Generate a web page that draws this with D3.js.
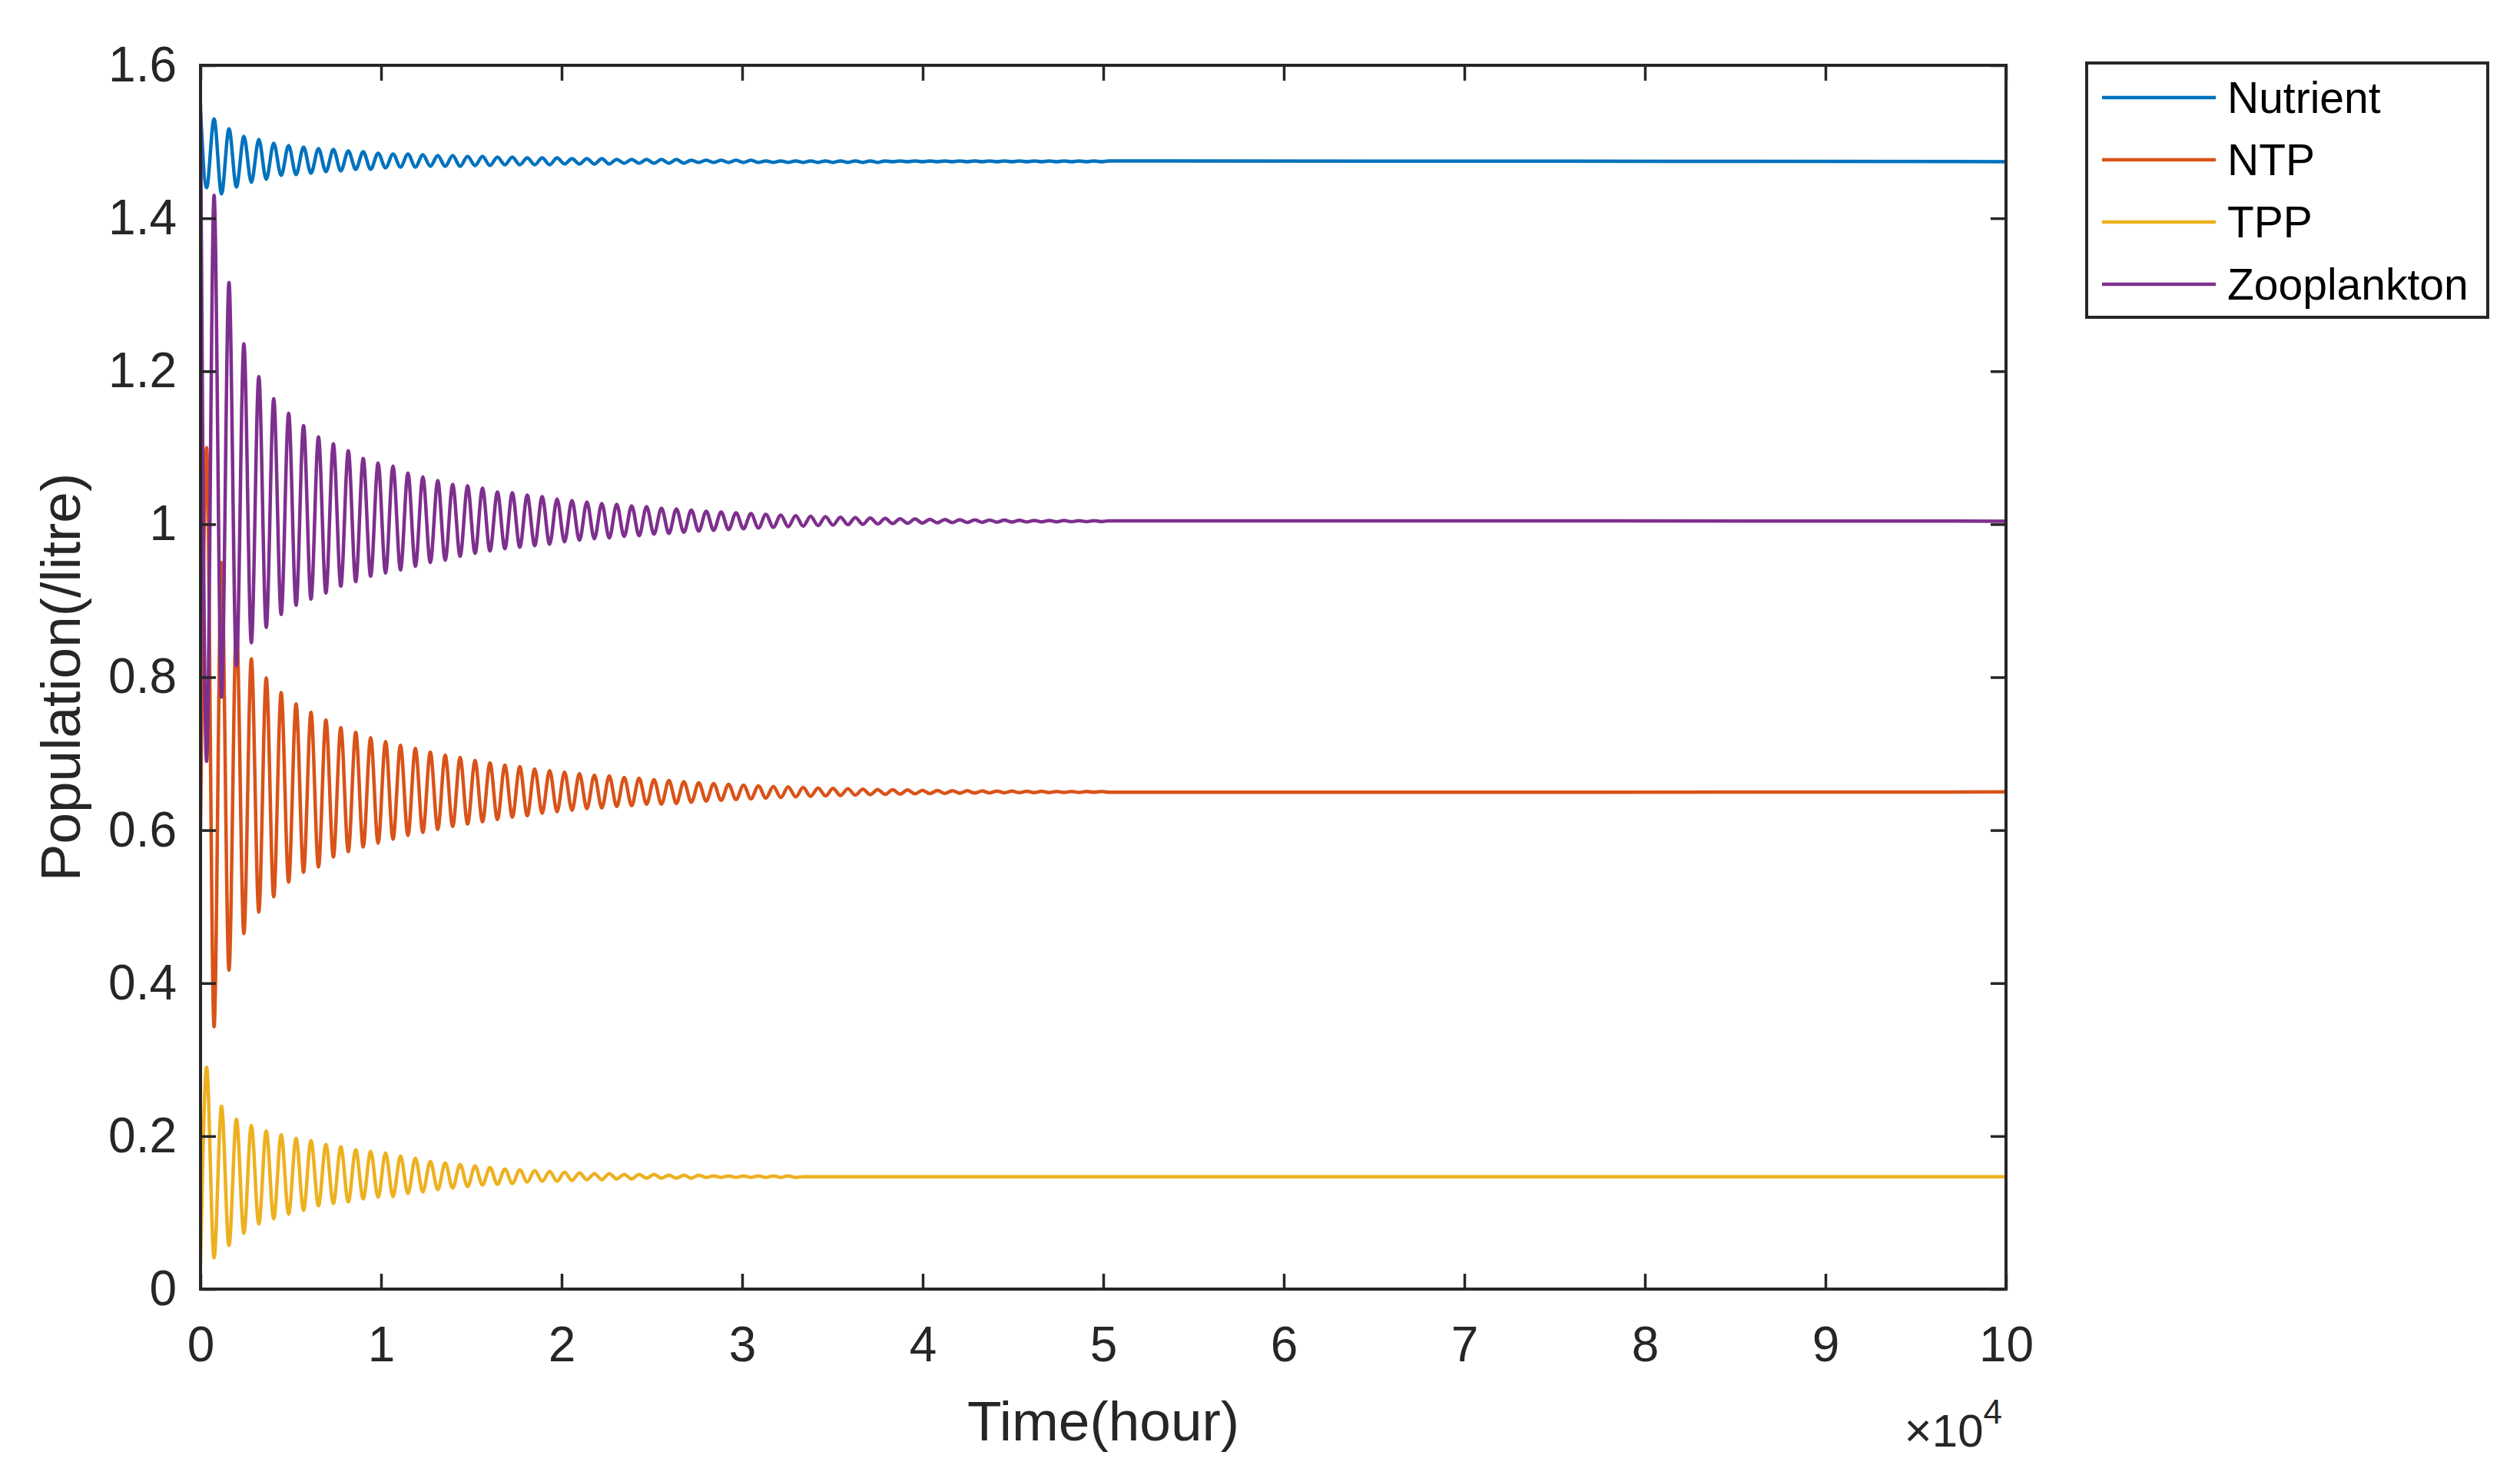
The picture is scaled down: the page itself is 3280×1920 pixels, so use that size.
<!DOCTYPE html>
<html><head><meta charset="utf-8">
<script src="https://cdn.jsdelivr.net/npm/d3@7/dist/d3.min.js"></script>
<style>body{margin:0;background:#fff}svg text{font-family:"Liberation Sans",Arial,Helvetica,sans-serif}</style>
</head><body>
<svg id="chart" width="3280" height="1920"></svg>
<script>
// ---------- data ----------
const seriesNames = ["Nutrient", "NTP", "TPP", "Zooplankton"];
const seriesColors = ["#0072BD", "#D95319", "#EDB120", "#7E2F8E"];

const xTickValues = [0, 10000, 20000, 30000, 40000, 50000, 60000, 70000, 80000, 90000, 100000];
const xTickLabels = ["0", "1", "2", "3", "4", "5", "6", "7", "8", "9", "10"];
const yTickValues = [0, 0.2, 0.4, 0.6, 0.8, 1.0, 1.2, 1.4, 1.6];
const yTickLabels = ["0", "0.2", "0.4", "0.6", "0.8", "1", "1.2", "1.4", "1.6"];

// times (hours) of the oscillation turning points
const timesA = [337, 1163, 1989, 2815, 3641, 4467, 5293, 6119, 6945, 7771,
  8597, 9423, 10249, 11075, 11901, 12727, 13553, 14379, 15205, 16031,
  16857, 17683, 18509, 19335, 20161, 20987, 21813, 22639, 23465, 24291,
  25117, 25943, 26769, 27595, 28421, 29247, 30073, 30899, 31725, 32551,
  33377, 34203, 35029, 35855, 36681, 37507, 38333, 39159, 39985, 40811,
  41637, 42463, 43289, 44115, 44941, 45767, 46593, 47419, 48245, 49071, 49897];
const timesB = [750, 1576, 2402, 3228, 4054, 4880, 5706, 6532, 7358, 8184,
  9010, 9836, 10662, 11488, 12314, 13140, 13966, 14792, 15618, 16444,
  17270, 18096, 18922, 19748, 20574, 21400, 22226, 23052, 23878, 24704,
  25530, 26356, 27182, 28008, 28834, 29660, 30486, 31312, 32138, 32964,
  33790, 34616, 35442, 36268, 37094, 37920, 38746, 39572, 40398, 41224,
  42050, 42876, 43702, 44528, 45354, 46180, 47006, 47832, 48658, 49484, 50310];
const tStart = 0;
const tEnd = 100000;

// Nutrient
const nutrientStart = 1.54;
const nutrientA = [1.440, 1.432, 1.441, 1.447, 1.451, 1.456, 1.457, 1.459, 1.461, 1.462,
  1.464, 1.464, 1.466, 1.467, 1.467, 1.468, 1.468, 1.468, 1.469, 1.469,
  1.470, 1.470, 1.470, 1.470, 1.471, 1.471, 1.471, 1.471, 1.472, 1.472,
  1.472, 1.472, 1.472, 1.473, 1.473, 1.473, 1.473, 1.473, 1.473, 1.473,
  1.473, 1.473, 1.473, 1.473, 1.473, 1.473, 1.474, 1.474, 1.474, 1.474,
  1.474, 1.474, 1.474, 1.474, 1.474, 1.474, 1.474, 1.474, 1.474, 1.474, 1.474];
const nutrientB = [1.530, 1.517, 1.507, 1.503, 1.498, 1.495, 1.493, 1.491, 1.490, 1.488,
  1.487, 1.485, 1.484, 1.484, 1.483, 1.482, 1.482, 1.481, 1.481, 1.480,
  1.480, 1.479, 1.479, 1.479, 1.478, 1.478, 1.478, 1.477, 1.477, 1.477,
  1.477, 1.477, 1.476, 1.476, 1.476, 1.476, 1.476, 1.475, 1.475, 1.475,
  1.475, 1.475, 1.475, 1.475, 1.475, 1.475, 1.475, 1.475, 1.475, 1.475,
  1.475, 1.475, 1.475, 1.475, 1.475, 1.475, 1.475, 1.475, 1.475, 1.475, 1.475];
const nutrientEnd = 1.474;

// NTP
const ntpStart = 0.60;
const ntpA = [1.100, 0.950, 0.870, 0.824, 0.799, 0.780, 0.765, 0.754, 0.744, 0.734,
  0.728, 0.721, 0.716, 0.711, 0.707, 0.702, 0.698, 0.695, 0.691, 0.688,
  0.685, 0.683, 0.680, 0.678, 0.676, 0.674, 0.672, 0.671, 0.669, 0.668,
  0.6660, 0.6650, 0.6635, 0.6620, 0.6610, 0.6600, 0.6590, 0.6580, 0.6572, 0.6565,
  0.6558, 0.6552, 0.6546, 0.6541, 0.6536, 0.6532, 0.6528, 0.6525, 0.6522, 0.6519,
  0.6517, 0.6515, 0.6513, 0.6511, 0.6510, 0.6509, 0.6508, 0.6507, 0.6506, 0.6505, 0.6505];
const ntpB = [0.343, 0.417, 0.465, 0.493, 0.513, 0.532, 0.545, 0.552, 0.565, 0.572,
  0.578, 0.583, 0.588, 0.593, 0.597, 0.601, 0.605, 0.608, 0.611, 0.614,
  0.617, 0.619, 0.622, 0.624, 0.626, 0.628, 0.629, 0.631, 0.632, 0.634,
  0.6340, 0.6350, 0.6365, 0.6380, 0.6390, 0.6400, 0.6410, 0.6420, 0.6428, 0.6435,
  0.6442, 0.6448, 0.6454, 0.6459, 0.6464, 0.6468, 0.6472, 0.6475, 0.6478, 0.6481,
  0.6483, 0.6485, 0.6487, 0.6489, 0.6490, 0.6491, 0.6492, 0.6493, 0.6494, 0.6495, 0.6495];
const ntpEnd = 0.650;

// TPP
const tppStart = 0.03;
const tppA = [0.290, 0.239, 0.222, 0.214, 0.207, 0.202, 0.197, 0.194, 0.189, 0.186,
  0.182, 0.180, 0.178, 0.174, 0.171, 0.167, 0.165, 0.163, 0.161, 0.159,
  0.157, 0.156, 0.155, 0.154, 0.153, 0.152, 0.151, 0.151, 0.150, 0.150,
  0.150, 0.149, 0.149, 0.149, 0.148, 0.148, 0.148, 0.148, 0.148, 0.148,
  0.147, 0.147, 0.147, 0.147, 0.147, 0.147, 0.147, 0.147, 0.147, 0.147,
  0.147, 0.147, 0.147, 0.147, 0.147, 0.147, 0.147, 0.147, 0.147, 0.147, 0.147];
const tppB = [0.041, 0.057, 0.073, 0.085, 0.092, 0.098, 0.103, 0.109, 0.112, 0.114,
  0.118, 0.120, 0.121, 0.125, 0.127, 0.130, 0.132, 0.134, 0.136, 0.137,
  0.138, 0.140, 0.141, 0.141, 0.142, 0.143, 0.143, 0.144, 0.144, 0.145,
  0.145, 0.145, 0.145, 0.146, 0.146, 0.146, 0.146, 0.146, 0.146, 0.146,
  0.147, 0.147, 0.147, 0.147, 0.147, 0.147, 0.147, 0.147, 0.147, 0.147,
  0.147, 0.147, 0.147, 0.147, 0.147, 0.147, 0.147, 0.147, 0.147, 0.147, 0.147];
const tppEnd = 0.147;

// Zooplankton
const zooStart = 1.55;
const zooA = [0.690, 0.774, 0.815, 0.845, 0.865, 0.882, 0.894, 0.902, 0.910, 0.919,
  0.925, 0.932, 0.936, 0.940, 0.945, 0.950, 0.953, 0.958, 0.962, 0.965,
  0.968, 0.970, 0.972, 0.974, 0.977, 0.979, 0.981, 0.982, 0.984, 0.985,
  0.9870, 0.9880, 0.9895, 0.9910, 0.9920, 0.9930, 0.9940, 0.9950, 0.9960, 0.9968,
  0.9975, 0.9982, 0.9988, 0.9994, 0.9999, 1.0004, 1.0008, 1.0012, 1.0015, 1.0018,
  1.0021, 1.0023, 1.0025, 1.0027, 1.0029, 1.0030, 1.0031, 1.0032, 1.0033, 1.0034, 1.0035];
const zooB = [1.430, 1.316, 1.236, 1.193, 1.164, 1.145, 1.129, 1.114, 1.105, 1.096,
  1.086, 1.080, 1.076, 1.067, 1.062, 1.057, 1.052, 1.050, 1.047, 1.042,
  1.041, 1.038, 1.036, 1.033, 1.031, 1.029, 1.027, 1.026, 1.024, 1.023,
  1.0210, 1.0200, 1.0185, 1.0170, 1.0160, 1.0150, 1.0140, 1.0130, 1.0120, 1.0112,
  1.0105, 1.0098, 1.0092, 1.0086, 1.0081, 1.0076, 1.0072, 1.0068, 1.0065, 1.0062,
  1.0059, 1.0057, 1.0055, 1.0053, 1.0051, 1.0050, 1.0049, 1.0048, 1.0047, 1.0046, 1.0045];
const zooEnd = 1.004;

// ---------- build tables ----------
function buildSeries(start, A, B, end) {
  const pts = [{t: tStart, v: start}];
  for (let i = 0; i < timesA.length; i++) {
    pts.push({t: timesA[i], v: A[i]});
    pts.push({t: timesB[i], v: B[i]});
  }
  pts.push({t: tEnd, v: end});
  return pts;
}
const seriesData = [
  buildSeries(nutrientStart, nutrientA, nutrientB, nutrientEnd),
  buildSeries(ntpStart, ntpA, ntpB, ntpEnd),
  buildSeries(tppStart, tppA, tppB, tppEnd),
  buildSeries(zooStart, zooA, zooB, zooEnd)
];

// ---------- layout ----------
const L = 261, R = 2611, T = 85, B = 1678;
const axisColor = "#262626";
const svg = d3.select("#chart");
svg.append("rect").attr("width", 3280).attr("height", 1920).attr("fill", "#fff");

const x = d3.scaleLinear().domain([0, 100000]).range([L, R]);
const y = d3.scaleLinear().domain([0, 1.6]).range([B, T]);

svg.append("defs").append("clipPath").attr("id", "plotclip")
  .append("rect").attr("x", L).attr("y", T).attr("width", R - L).attr("height", B - T);

// lines
const line = d3.line().x(d => x(d.t)).y(d => y(d.v)).curve(d3.curveMonotoneX);
const gLines = svg.append("g").attr("clip-path", "url(#plotclip)");
seriesData.forEach((s, i) => {
  gLines.append("path").datum(s)
    .attr("d", line)
    .attr("fill", "none")
    .attr("stroke", seriesColors[i])
    .attr("stroke-width", 4.5)
    .attr("stroke-linejoin", "round");
});

// axes
const tickLen = 20;
function styleAxis(g) {
  g.select(".domain").remove();
  g.selectAll(".tick line").attr("stroke", axisColor).attr("stroke-width", 3.5);
  g.selectAll(".tick text").attr("fill", axisColor).attr("font-size", 64)
    .attr("font-family", '"Liberation Sans", Arial, sans-serif');
}
svg.append("g").attr("transform", `translate(0,${B})`)
  .call(d3.axisBottom(x).tickValues(xTickValues).tickFormat((d, i) => xTickLabels[i])
    .tickSizeInner(-tickLen).tickSizeOuter(0).tickPadding(49))
  .call(styleAxis);
svg.append("g").attr("transform", `translate(0,${T})`)
  .call(d3.axisTop(x).tickValues(xTickValues).tickFormat("")
    .tickSizeInner(-tickLen).tickSizeOuter(0))
  .call(styleAxis);
svg.append("g").attr("transform", `translate(${L},0)`)
  .call(d3.axisLeft(y).tickValues(yTickValues).tickFormat((d, i) => yTickLabels[i])
    .tickSizeInner(-tickLen).tickSizeOuter(0).tickPadding(31))
  .call(styleAxis);
svg.append("g").attr("transform", `translate(${R},0)`)
  .call(d3.axisRight(y).tickValues(yTickValues).tickFormat("")
    .tickSizeInner(-tickLen).tickSizeOuter(0))
  .call(styleAxis);

// box
svg.append("rect").attr("x", L).attr("y", T).attr("width", R - L).attr("height", B - T)
  .attr("fill", "none").attr("stroke", axisColor).attr("stroke-width", 4);

// axis labels
svg.append("text").attr("x", (L + R) / 2).attr("y", 1875)
  .attr("text-anchor", "middle").attr("font-size", 73).attr("fill", axisColor)
  .text("Time(hour)");
svg.append("text").attr("transform", `translate(104,${(T + B) / 2}) rotate(-90)`)
  .attr("text-anchor", "middle").attr("font-size", 73).attr("fill", axisColor)
  .text("Population(/litre)");

// exponent label
const expo = svg.append("text").attr("x", 2606).attr("y", 1883)
  .attr("text-anchor", "end").attr("fill", axisColor);
expo.append("tspan").attr("font-size", 62).text("×");
expo.append("tspan").attr("font-size", 60).text("10");
expo.append("tspan").attr("font-size", 44).attr("dy", -30).text("4");

// legend
const legX = 2716, legY = 82, legW = 522, legH = 331;
svg.append("rect").attr("x", legX).attr("y", legY).attr("width", legW).attr("height", legH)
  .attr("fill", "#fff").attr("stroke", axisColor).attr("stroke-width", 4);
const legRows = [127, 208, 289, 370];
seriesNames.forEach((name, i) => {
  svg.append("line").attr("x1", 2736).attr("x2", 2884)
    .attr("y1", legRows[i]).attr("y2", legRows[i])
    .attr("stroke", seriesColors[i]).attr("stroke-width", 4.5);
  svg.append("text").attr("x", 2899).attr("y", legRows[i] + 20)
    .attr("font-size", 57).attr("fill", "#000").text(name);
});
</script>
</body></html>
